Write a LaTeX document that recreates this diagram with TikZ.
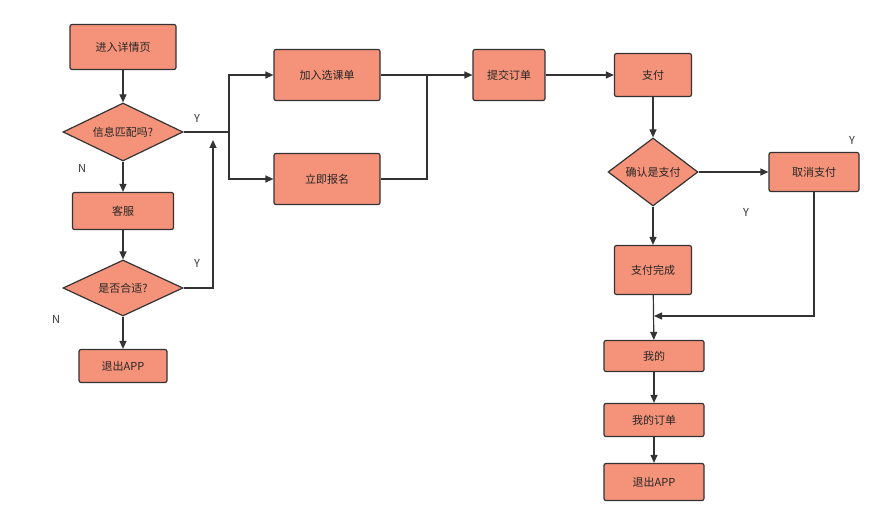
\documentclass[tikz,border=0pt]{standalone}
\usepackage{fontspec}
\setmainfont{Noto Sans CJK SC}
\usetikzlibrary{shapes.geometric,arrows.meta}
\begin{document}
\begin{tikzpicture}[x=1pt,y=-1pt,
  box/.style={draw=black!80,line width=1.2pt,fill=boxfill,rounded corners=2pt,minimum width=#1,inner sep=0pt},
  dia/.style={draw=black!80,line width=1.2pt,fill=boxfill,diamond,aspect=2,inner sep=0pt},
  line/.style={draw=black!80,line width=1.2pt},
  arr/.style={line,-{Triangle[length=8pt,width=7pt]}},
  lab/.style={font=\fontsize{11}{13}\selectfont,text=black!80},
  every node/.append style={font=\fontsize{11}{13}\selectfont,text=black!85}]
\definecolor{boxfill}{HTML}{F5937A}
\useasboundingbox (0,0) rectangle (896,526);

% Left column
\node [box=106pt,minimum height=45pt] (detail) at (123,47) {进入详情页};
\node [dia,minimum width=120pt,minimum height=58pt] (match) at (123,132) {信息匹配吗?};
\node [box=101pt,minimum height=37pt] (service) at (123,211) {客服};
\node [dia,minimum width=120pt,minimum height=56pt] (fit) at (123,288) {是否合适?};
\node [box=88pt,minimum height=33pt] (exit1) at (123,366) {退出APP};

% Middle
\node [box=106pt,minimum height=51pt] (cart) at (327,75) {加入选课单};
\node [box=106pt,minimum height=51pt] (apply) at (327,179) {立即报名};
\node [box=72pt,minimum height=51pt] (submit) at (509,75) {提交订单};

% Right column
\node [box=77pt,minimum height=43pt] (pay) at (653,75) {支付};
\node [dia,minimum width=90pt,minimum height=68pt,aspect=1.3] (confirm) at (653,172) {确认是支付};
\node [box=90pt,minimum height=39pt] (cancel) at (814,172) {取消支付};
\node [box=77pt,minimum height=49pt] (done) at (653,270) {支付完成};
\node [box=100pt,minimum height=31pt] (mine) at (654,356) {我的};
\node [box=100pt,minimum height=33pt] (orders) at (654,420) {我的订单};
\node [box=100pt,minimum height=37pt] (exit2) at (654,482) {退出APP};

\coordinate (split) at (229,132);
\coordinate (merge) at (427,75);
\coordinate (join) at (654,316);

% Connectors
\draw [arr] (detail) -- (match);
\draw [arr] (match) -- (service);
\draw [arr] (service) -- (fit);
\draw [arr] (fit) -- (exit1);
\draw [line] (match.east) -- (split);
\draw [arr] (split) |- (cart.west);
\draw [arr] (split) |- (apply.west);
\draw [arr] (fit.east) -- (213,288) -- (213,140);
\draw [line] (cart.east) -- (merge);
\draw [line] (apply.east) -| (merge);
\draw [arr] (merge) -- (submit.west);
\draw [arr] (submit) -- (pay);
\draw [arr] (pay) -- (confirm);
\draw [arr] (confirm) -- (cancel);
\draw [arr] (confirm) -- (done);
\draw [arr] (done) -- (mine);
\draw [arr] (cancel.south) |- (join);
\draw [arr] (mine) -- (orders);
\draw [arr] (orders) -- (exit2);

% Labels
\node [lab] (y1) at (197,118) {Y};
\node [lab] (n1) at (82,168) {N};
\node [lab] (y2) at (197,263) {Y};
\node [lab] (n2) at (56,319) {N};
\node [lab] (y3) at (852,140) {Y};
\node [lab] (y4) at (746,212) {Y};
\end{tikzpicture}
\end{document}
